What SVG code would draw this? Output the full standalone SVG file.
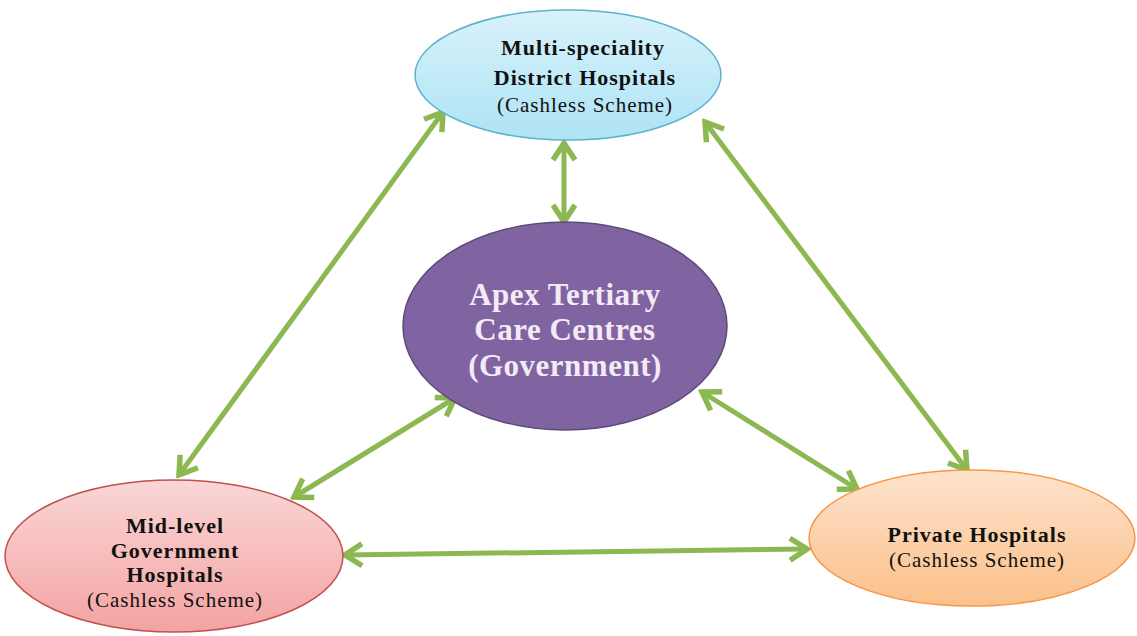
<svg xmlns="http://www.w3.org/2000/svg" width="1137" height="636" viewBox="0 0 1137 636">
<style>
.t{font-family:"Liberation Serif","Times New Roman",serif;text-anchor:middle;fill:#111}
.b{font-weight:bold;font-size:22px;letter-spacing:1px}
.r{font-size:21px;letter-spacing:1px}
.w{font-family:"Liberation Serif","Times New Roman",serif;text-anchor:middle;fill:#f4eaf6;font-weight:bold;font-size:31px;letter-spacing:0.5px}
.c{stroke:#8cb851;stroke-width:5;fill:none;marker-start:url(#ah);marker-end:url(#ah)}
</style>
<defs>
<marker id="ah" viewBox="-24 -14 28 28" markerWidth="28" markerHeight="28" refX="0" refY="0" orient="auto-start-reverse" markerUnits="userSpaceOnUse">
<path d="M-17,-11 L0,0 L-17,11" fill="none" stroke="#8cb851" stroke-width="5.5" stroke-linejoin="miter"/>
</marker>
<linearGradient id="gc" x1="0" y1="1" x2="0" y2="0"><stop offset="0" stop-color="#aee3f5"/><stop offset="1" stop-color="#d8f2fb"/></linearGradient>
<linearGradient id="gp" x1="0" y1="1" x2="0" y2="0"><stop offset="0" stop-color="#f3a3a3"/><stop offset="1" stop-color="#fad6d6"/></linearGradient>
<linearGradient id="go" x1="0" y1="1" x2="0" y2="0"><stop offset="0" stop-color="#fbc08b"/><stop offset="1" stop-color="#fde3cc"/></linearGradient>
</defs>
<g id="connectors">
<line class="c" x1="443" y1="112" x2="179" y2="475"/>
<line class="c" x1="564" y1="143" x2="564" y2="222"/>
<line class="c" x1="705" y1="122" x2="967" y2="470"/>
<line class="c" x1="455" y1="398" x2="294" y2="497"/>
<line class="c" x1="702" y1="392" x2="857" y2="489"/>
<line class="c" x1="345" y1="555" x2="807" y2="549"/>
</g>
<g id="district">
<ellipse cx="568" cy="75" rx="153" ry="65" fill="url(#gc)" stroke="#5bb3cc" stroke-width="1.5"/>
<text class="t b" x="583" y="55">Multi-speciality</text>
<text class="t b" x="585" y="85">District Hospitals</text>
<text class="t r" x="585" y="112">(Cashless Scheme)</text>
</g>
<g id="apex">
<ellipse cx="565" cy="326" rx="162" ry="104" fill="#8064a2" stroke="#5e4a7a" stroke-width="1.5"/>
<text class="w" x="565" y="305">Apex Tertiary</text>
<text class="w" x="565" y="340">Care Centres</text>
<text class="w" x="565" y="376">(Government)</text>
</g>
<g id="midlevel">
<ellipse cx="174" cy="556" rx="169" ry="76" fill="url(#gp)" stroke="#c0504d" stroke-width="1.5"/>
<text class="t b" x="175" y="533">Mid-level</text>
<text class="t b" x="175" y="558">Government</text>
<text class="t b" x="175" y="582">Hospitals</text>
<text class="t r" x="175" y="607">(Cashless Scheme)</text>
</g>
<g id="private">
<ellipse cx="972" cy="538" rx="163" ry="68" fill="url(#go)" stroke="#f79646" stroke-width="1.5"/>
<text class="t b" x="977" y="542">Private Hospitals</text>
<text class="t r" x="977" y="567">(Cashless Scheme)</text>
</g>
</svg>
